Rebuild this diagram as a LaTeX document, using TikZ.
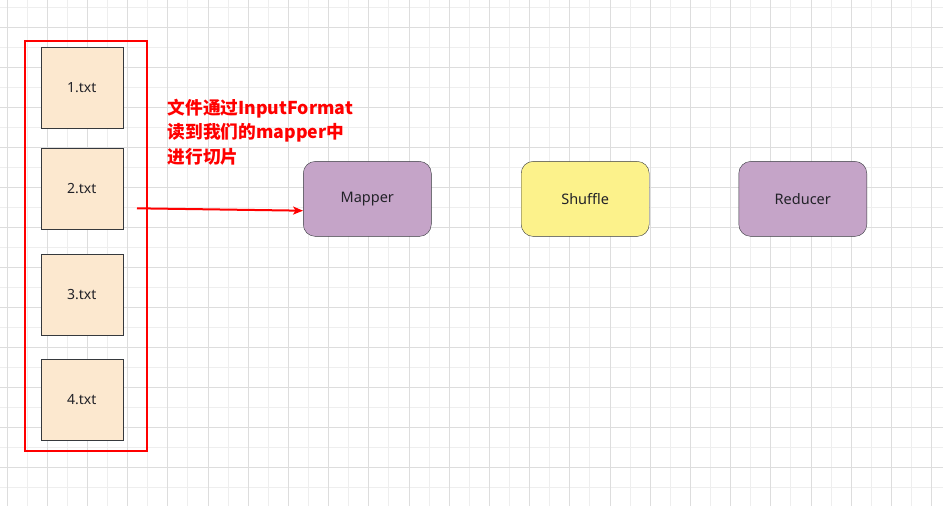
\documentclass[tikz,border=0pt]{standalone}
\usepackage{fontspec}
\setmainfont{Noto Sans}
\newfontfamily\cjkfont{Noto Sans CJK SC}
\usetikzlibrary{arrows.meta,positioning}
\definecolor{peach}{RGB}{252,232,207}
\definecolor{lilac}{RGB}{197,164,200}
\definecolor{lemon}{RGB}{252,242,139}
\definecolor{edge}{RGB}{54,57,61}
\definecolor{ink}{RGB}{34,34,40}
\definecolor{gridminor}{RGB}{238,238,238}
\definecolor{gridmajor}{RGB}{221,221,221}
\tikzset{
  >={Stealth[length=10pt,width=8pt,inset=2.5pt]},
  file/.style={draw=edge,fill=peach,minimum width=82pt,minimum height=81pt,
    font=\fontsize{14}{16}\selectfont,text=ink},
  stage/.style={draw=edge,fill=#1,rounded corners=12pt,minimum width=128pt,
    minimum height=75pt,font=\fontsize{14.5}{16}\selectfont,text=ink},
  stage/.default=lilac,
  note/.style={text=red,align=left,inner sep=0pt,
    font=\cjkfont\bfseries\fontsize{17.7}{24.5}\selectfont},
  flow/.style={->,line width=2pt,draw=red},
}

\begin{document}
\begin{tikzpicture}[x=1pt,y=-1pt]
  \useasboundingbox (0,0) rectangle (943,506);
  \fill[white] (0,0) rectangle (943,506);
  % grid
  \foreach \i in {0,...,46} \draw[gridminor] (6.7+20.1*\i,0) -- ++(0,506);
  \foreach \j in {0,...,25} \draw[gridminor] (0,7.3+20*\j) -- ++(943,0);
  \foreach \i in {0,2,...,46} \draw[gridmajor] (6.7+20.1*\i,0) -- ++(0,506);
  \foreach \j in {1,3,...,25} \draw[gridmajor] (0,7.3+20*\j) -- ++(943,0);

  \node[draw=red,line width=2pt,minimum width=122pt,minimum height=410pt] (batch) at (85.5,245.5) {};
  \foreach \y/\t [count=\i] in {87.7/1.txt,188.7/2.txt,294.3/3.txt,399.2/4.txt}
    \node[file] (f\i) at (81.7,\y) {\t};

  \foreach \x/\c/\t/\n in {367.3/lilac/Mapper/mapper,585.2/lemon/Shuffle/shuffle,802.8/lilac/Reducer/reducer}
    \node[stage=\c] (\n) at (\x,198.9) {\t};

  \node[note,anchor=north west] (split) at (167.5,98.5) {文件通过InputFormat\\读到我们的mapper中\\进行切片};

  \coordinate (tail) at (137,208.3);
  \draw[flow] (tail) -- ([yshift=-11.8pt]mapper.west);
\end{tikzpicture}
\end{document}
